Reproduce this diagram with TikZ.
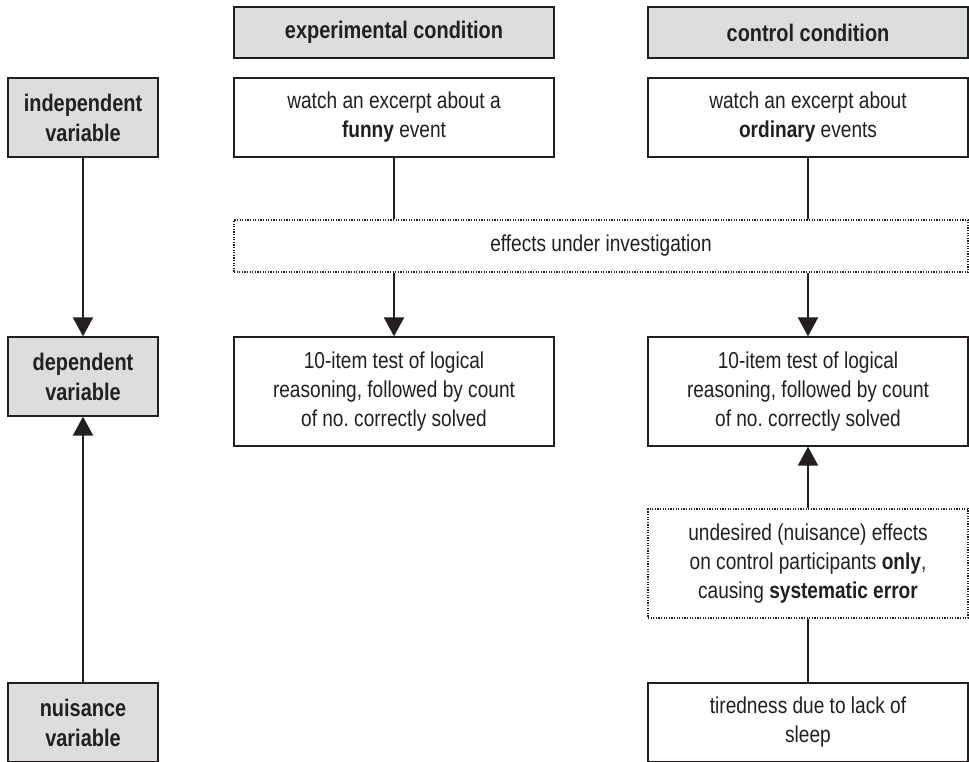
\documentclass[tikz,border=0pt]{standalone}
\usepackage{fontspec}
\setmainfont{Liberation Sans}[FakeStretch=0.83]
\usetikzlibrary{arrows.meta}
\definecolor{ink}{HTML}{231F20}
\definecolor{panel}{HTML}{DCDDDF}
\frenchspacing
\begin{document}
\begin{tikzpicture}[x=1pt,y=-1pt,
  every node/.style={text=ink},
  box/.style={draw=ink,line width=1.3pt,rectangle,align=center,inner sep=0pt,
    font=\fontsize{23}{29}\selectfont},
  varbox/.style={box,fill=panel,minimum width=150pt,minimum height=79pt,
    font=\fontsize{24}{30}\selectfont\bfseries},
  headbox/.style={box,fill=panel,minimum width=320pt,minimum height=51pt,
    font=\fontsize{24}{30}\selectfont\bfseries},
  plainbox/.style={box,fill=white,minimum width=320pt},
  dotbox/.style={box,line width=1.2pt,dash pattern=on 1.2pt off 1.4pt},
  link/.style={draw=ink,line width=2.2pt},
  arr/.style={link,-{Triangle[width=20pt,length=19pt]}}]
\useasboundingbox (0,0) rectangle (969,761);

% variable labels on the left
\node[varbox] (indep) at (83,117.5) {independent\\variable};
\node[varbox] (dep)   at (83,376.5) {dependent\\variable};
\node[varbox] (nuis)  at (83,722.5) {nuisance\\variable};

% column headers
\node[headbox] (exphead)  at (394,32.5) {experimental condition};
\node[headbox] (ctrlhead) at (808,32.5) {control condition};

% manipulation
\node[plainbox,minimum height=79pt] (expwatch)  at (394,117.5) {watch an excerpt about a\\\textbf{funny} event};
\node[plainbox,minimum height=79pt] (ctrlwatch) at (808,117.5) {watch an excerpt about\\\textbf{ordinary} events};

\node[dotbox,minimum width=734pt,minimum height=52pt] (effects) at (601,246) {effects under investigation};

% measurement
\node[plainbox,minimum height=109pt] (exptest)  at (394,391.5) {10-item test of logical\\reasoning, followed by count\\of no. correctly solved};
\node[plainbox,minimum height=109pt] (ctrltest) at (808,391.5) {10-item test of logical\\reasoning, followed by count\\of no. correctly solved};

% nuisance path
\node[dotbox,minimum width=320pt,minimum height=109pt] (undes) at (808,563.5) {undesired (nuisance) effects\\on control participants \textbf{only},\\causing \textbf{systematic error}};
\node[plainbox,minimum height=79pt] (tired) at (808,722.5) {tiredness due to lack of\\sleep};

% connectors
\draw[arr] (indep.south) -- (dep.north);
\draw[arr] (nuis.north) -- (dep.south);
\draw[link] (expwatch.south) -- (expwatch.south |- effects.north);
\draw[link] (ctrlwatch.south) -- (ctrlwatch.south |- effects.north);
\draw[arr] (exptest.north |- effects.south) -- (exptest.north);
\draw[arr] (ctrltest.north |- effects.south) -- (ctrltest.north);
\draw[arr] (undes.north) -- (ctrltest.south);
\draw[link] (tired.north) -- (undes.south);
\end{tikzpicture}
\end{document}
